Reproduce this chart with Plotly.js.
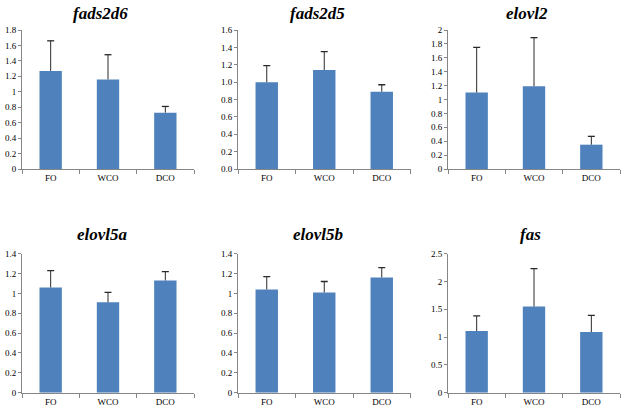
<!DOCTYPE html>
<html><head><meta charset="utf-8">
<script src="https://cdn.plot.ly/plotly-3.0.1.min.js"></script>
<style>html,body{margin:0;padding:0;background:#fff}#chart{width:625px;height:410px}</style>
</head><body><div id="chart"></div>
<script>
const categories = ["FO", "WCO", "DCO"];
const genes = ["fads2d6", "fads2d5", "elovl2", "elovl5a", "elovl5b", "fas"];
const fads2d6 = [1.27, 1.16, 0.73];
const fads2d6Err = [0.39, 0.32, 0.08];
const fads2d5 = [1.00, 1.14, 0.89];
const fads2d5Err = [0.19, 0.21, 0.08];
const elovl2 = [1.10, 1.19, 0.35];
const elovl2Err = [0.65, 0.70, 0.12];
const elovl5a = [1.06, 0.91, 1.13];
const elovl5aErr = [0.17, 0.10, 0.09];
const elovl5b = [1.04, 1.01, 1.16];
const elovl5bErr = [0.13, 0.11, 0.10];
const fas = [1.11, 1.55, 1.09];
const fasErr = [0.27, 0.68, 0.30];

const values = [fads2d6, fads2d5, elovl2, elovl5a, elovl5b, fas];
const errs = [fads2d6Err, fads2d5Err, elovl2Err, elovl5aErr, elovl5bErr, fasErr];
const yMax = [1.8, 1.6, 2, 1.4, 1.4, 2.5];
const yStep = [0.2, 0.2, 0.2, 0.2, 0.2, 0.5];
const yFmt = ["", ".1f", "", "", "", ""];

const W = 625, H = 410;
const FONT = "Liberation Serif";
const xPix = [[22, 194], [238, 410.5], [448, 620]];
const yPix = [[30, 169], [253.7, 392.7]];
const titlePos = [[100, 13], [317, 13], [527, 13], [102, 234], [318, 234], [530, 234]];

const data = [];
const layout = {
  width: W, height: H, margin: {l: 0, r: 0, t: 0, b: 0},
  paper_bgcolor: "#fff", plot_bgcolor: "#fff", showlegend: false,
  font: {family: FONT, size: 9, color: "#000"},
  annotations: [], bargap: 0.61
};
for (let i = 0; i < 6; i++) {
  const n = i + 1;
  const xa = n === 1 ? "x" : "x" + n, ya = n === 1 ? "y" : "y" + n;
  data.push({
    type: "bar", x: categories, y: values[i], xaxis: xa, yaxis: ya,
    marker: {color: "#4F81BD", line: {width: 0}}, hoverinfo: "none"
  });
  // upper-only error bars: stem from bar top to value+err, cap at top
  const sx = [], sy = [];
  categories.forEach((c, k) => { sx.push(c, c, null); sy.push(values[i][k], values[i][k] + errs[i][k], null); });
  data.push({
    type: "scatter", mode: "lines", x: sx, y: sy, xaxis: xa, yaxis: ya,
    line: {color: "#2a2a2a", width: 1}, hoverinfo: "none", connectgaps: false
  });
  data.push({
    type: "scatter", mode: "markers", x: categories, y: values[i].map((v, k) => v + errs[i][k]),
    xaxis: xa, yaxis: ya, hoverinfo: "none",
    marker: {symbol: "line-ew", size: 5, line: {color: "#2a2a2a", width: 1.3}}
  });
  const col = i % 3, row = Math.floor(i / 3);
  layout["xaxis" + (n === 1 ? "" : n)] = {
    domain: [xPix[col][0] / W, xPix[col][1] / W], anchor: ya,
    showline: true, linecolor: "#868686", linewidth: 1, showgrid: false, zeroline: false,
    ticks: "outside", tickson: "boundaries", ticklen: 4, tickcolor: "#868686",
    tickfont: {family: FONT, size: 9, color: "#000"}, fixedrange: true
  };
  layout["yaxis" + (n === 1 ? "" : n)] = {
    domain: [(H - yPix[row][1]) / H, (H - yPix[row][0]) / H], anchor: xa,
    range: [0, yMax[i]], dtick: yStep[i], tick0: 0, tickformat: yFmt[i],
    showline: true, linecolor: "#868686", linewidth: 1, showgrid: false, zeroline: false,
    ticks: "outside", ticklen: 3, tickcolor: "#868686",
    tickfont: {family: FONT, size: 9, color: "#000"}, fixedrange: true
  };
  layout.annotations.push({
    text: "<b><i>" + genes[i] + "</i></b>", xref: "paper", yref: "paper",
    x: titlePos[i][0] / W, y: (H - titlePos[i][1]) / H, xanchor: "center", yanchor: "middle",
    showarrow: false, font: {family: FONT, size: 17, color: "#000"}
  });
}
Plotly.newPlot("chart", data, layout, {staticPlot: true, displayModeBar: false});
</script></body></html>
